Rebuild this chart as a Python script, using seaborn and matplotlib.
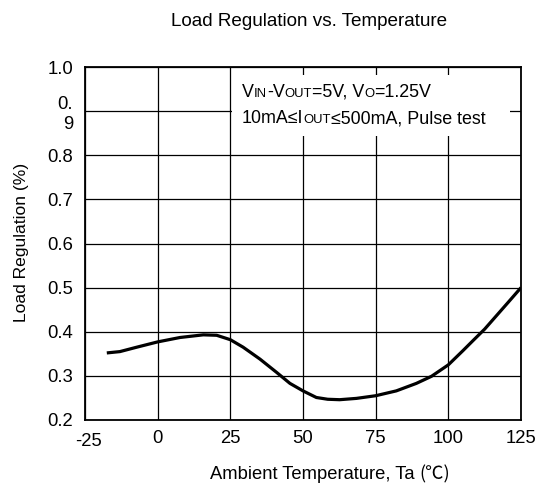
import matplotlib
matplotlib.use("Agg")
import matplotlib.pyplot as plt
import seaborn as sns
import pandas as pd
from matplotlib.transforms import IdentityTransform, ScaledTranslation
from matplotlib.patches import Rectangle

# ---- data ----
temperature = [-17.5, -13, -7.2, 0, 7.7, 15.7, 20.3, 25, 29.4, 35.2, 40.9, 45.5, 50, 54.6,
               58.5, 62.6, 68.4, 75, 82.1, 89, 94.2, 100, 105, 108.5, 112.5, 116.5, 120.5, 125]
load_reg = [0.352, 0.355, 0.365, 0.377, 0.387, 0.393, 0.392, 0.382, 0.365, 0.338, 0.308, 0.283,
            0.266, 0.251, 0.247, 0.246, 0.249, 0.255, 0.266, 0.283, 0.299, 0.325, 0.357, 0.380,
            0.406, 0.436, 0.466, 0.500]
x_ticks = [-25, 0, 25, 50, 75, 100, 125]
y_ticks = [0.2, 0.3, 0.4, 0.5, 0.6, 0.7, 0.8, 0.9, 1.0]
y_tick_labels = ["0.2", "0.3", "0.4", "0.5", "0.6", "0.7", "0.8", "0.\n9", "1.0"]
title = "Load Regulation vs. Temperature"
x_label_main = "Ambient Temperature, Ta "
x_label_unit = "(℃)"
y_label = "Load Regulation (%)"

sns.set_theme(style="white")
plt.rcParams["font.family"] = ["Liberation Sans", "DejaVu Sans", "Noto Sans CJK SC"]
plt.rcParams["axes.unicode_minus"] = False

W, H = 539, 487
fig = plt.figure(figsize=(W / 100, H / 100), dpi=100)
ax = fig.add_axes([85 / W, 1 - 420 / H, (521 - 85) / W, (420 - 67) / H])

df = pd.DataFrame({"Ta": temperature, "LR": load_reg})
sns.lineplot(data=df, x="Ta", y="LR", ax=ax, color="black", linewidth=2.3,
             solid_joinstyle="round", solid_capstyle="butt", zorder=5)

ax.set_xlim(-25, 125)
ax.set_ylim(0.2, 1.0)
ax.set_xticks(x_ticks)
ax.set_yticks(y_ticks)
ax.set_yticklabels(y_tick_labels)
ax.set_xlabel("")
ax.set_ylabel("")
ax.tick_params(axis="both", length=0, labelsize=13.3, colors="black")
ax.tick_params(axis="y", pad=8.5)
ax.tick_params(axis="x", pad=7)
ax.grid(True, color="black", linewidth=0.9)
for s in ax.spines.values():
    s.set_color("black")
    s.set_linewidth(1.3)
    s.set_zorder(6)

# quirk: -25 label slightly lower/right
lab0 = ax.get_xticklabels()[0]
lab0.set_transform(lab0.get_transform() + ScaledTranslation(3 / 100, -3 / 100, fig.dpi_scale_trans))

# white note area covering the grid
ax.add_patch(Rectangle((25.6, 0.843), 121.3 - 25.6, 0.982 - 0.843, facecolor="white",
                       edgecolor="none", zorder=3))

fig.canvas.draw()
renderer = fig.canvas.get_renderer()


def runs(px, py, parts, family=None):
    for s, size, fam in parts:
        kw = {"family": fam} if fam else {}
        t = fig.text(px, py, s, transform=IdentityTransform(), fontsize=size,
                     va="baseline", ha="left", color="black", zorder=4, **kw)
        px += t.get_window_extent(renderer).width
    return px


big, small = 12.9, 9.4
bx, by = ax.transData.transform((29.0, 0.933))
runs(bx, by, [("V", big, None), ("IN", small, None), ("-V", big, None), ("OUT", small, None),
              ("=5V, V", big, None), ("O", small, None), ("=1.25V", big, None)])
bx, by = ax.transData.transform((29.0, 0.873))
runs(bx, by, [("10mA≤I", big, None), ("OUT", small, None), ("≤500mA, Pulse test", big, None)])

fig.text(309 / W, 1 - 21 / H, title, ha="center", va="center", fontsize=13.6, color="black")
# x label: main part + CJK-styled unit
runs(210, H - 479, [(x_label_main, 13.2, None),
                    (x_label_unit, 13.2, ["Noto Sans CJK SC", "DejaVu Sans"])])
fig.text(21.7 / W, 1 - 242 / H, y_label, ha="center", va="center", rotation=90,
         fontsize=12.6, color="black")

fig.savefig("out.png", dpi=100, facecolor="white")
